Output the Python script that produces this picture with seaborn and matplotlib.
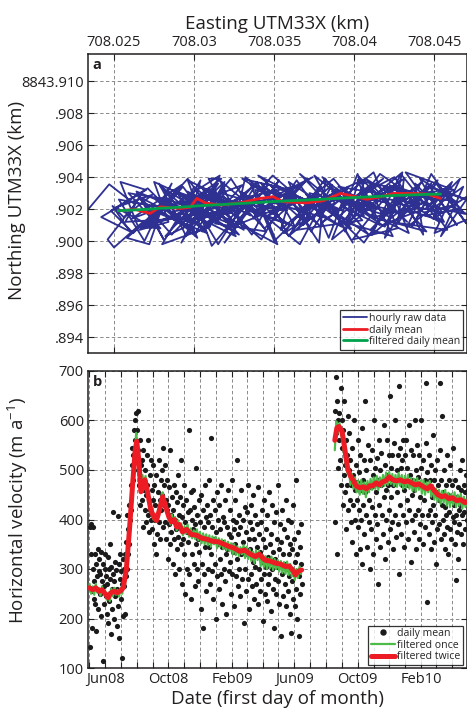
import numpy as np
import pandas as pd
import matplotlib
matplotlib.use("Agg")
import matplotlib.pyplot as plt
import matplotlib.dates as mdates
import seaborn as sns
from matplotlib.ticker import FixedLocator, FuncFormatter
from matplotlib.lines import Line2D

# ---------------- Panel a data (offsets in metres: easting from 708.000 km, northing from 8843.900 km)
# one row per day of hourly positions
hourly_e = [
    23.4, 24.7, 26.3, 24.6, 25.0, 26.8, 25.1, 27.4, 25.6, 24.9, 26.0, 24.2, 27.0, 25.4, 26.5,
    27.9, 25.9, 28.3, 26.2, 24.8, 27.1, 29.0, 25.7, 26.6, 27.5, 28.6, 26.9, 25.3, 28.0, 27.2,
    25.8, 28.9, 27.0, 29.6, 26.4, 28.1, 26.9, 30.0, 27.7, 26.1, 29.2, 26.6, 28.4, 27.5, 29.9,
    29.3, 27.2, 30.4, 28.6, 26.5, 29.8, 27.8, 28.9, 31.0, 27.4, 30.8, 28.2, 26.9, 29.6, 31.2,
    28.2, 30.9, 29.5, 27.6, 31.3, 29.0, 30.2, 28.4, 31.8, 29.7, 30.4, 28.0, 31.0, 29.3, 27.9,
    32.0, 28.6, 30.6, 29.2, 31.5, 28.9, 30.8, 32.3, 29.9, 30.3, 31.9, 29.5, 28.4, 32.5, 30.9,
    31.7, 29.4, 32.4, 30.0, 28.8, 31.2, 33.0, 30.5, 29.6, 31.4, 32.8, 29.1, 31.6, 30.2, 33.3,
    33.2, 30.1, 31.9, 29.8, 32.6, 31.0, 33.5, 30.4, 32.2, 29.9, 31.5, 33.9, 30.7, 32.9, 29.6,
    31.1, 33.8, 32.0, 30.5, 34.0, 31.6, 33.1, 30.8, 32.7, 31.3, 34.5, 32.3, 30.2, 33.6, 31.9,
    34.6, 32.4, 35.1, 31.7, 33.6, 34.9, 32.1, 33.9, 35.5, 32.8, 33.2, 35.8, 31.4, 34.2, 36.0,
    33.0, 35.8, 34.4, 32.6, 36.2, 33.7, 35.3, 34.0, 32.9, 36.0, 35.0, 33.5, 37.0, 34.9, 32.4,
    35.2, 33.8, 36.7, 34.5, 37.1, 35.6, 33.4, 36.3, 34.8, 37.4, 36.0, 38.0, 34.0, 37.8, 35.7,
    36.9, 34.2, 35.9, 37.6, 35.0, 36.4, 38.0, 34.6, 36.1, 35.4, 38.6, 36.6, 34.0, 37.4, 35.2,
    38.5, 35.9, 37.3, 39.0, 36.3, 38.2, 37.8, 36.0, 39.3, 37.0, 39.8, 36.6, 38.8, 35.6, 37.9,
    36.8, 39.6, 38.4, 37.2, 40.1, 38.7, 36.9, 39.2, 37.7, 38.9, 40.6, 37.5, 39.9, 38.1, 36.4,
    40.5, 38.0, 39.8, 37.9, 41.1, 39.4, 40.7, 38.3, 41.4, 39.0, 42.0, 38.6, 40.2, 41.6, 39.2,
    41.8, 39.1, 40.9, 38.6, 42.0, 40.3, 39.5, 41.5, 40.1, 42.3, 43.0, 40.6, 38.4, 41.2, 42.7,
    39.9, 42.6, 40.6, 38.9, 41.9, 43.0, 40.2, 41.3, 39.8, 42.1, 43.6, 41.6, 39.3, 42.4, 40.9,
    43.3, 40.7, 42.8, 41.0, 43.7, 41.8, 40.4, 42.5, 43.9, 41.2, 44.5, 42.0, 40.1, 43.0, 41.9,
    44.2, 41.6, 43.4, 42.2, 44.6, 41.4, 43.1, 42.7, 44.0, 41.9, 45.3, 42.9, 41.1, 44.8, 43.6,
    42.9, 45.2, 43.6, 44.8, 42.4, 45.5, 43.8, 44.3, 42.6, 45.0, 46.2, 43.2, 45.8, 42.2, 44.6,
    46.0, 43.5, 45.6, 44.1, 46.3, 43.9, 45.8, 44.4, 46.6, 45.1, 47.0, 44.8, 43.3, 46.8, 45.4,
    47.2, 44.9, 46.1, 44.6, 46.9, 45.7, 47.5, 44.7, 46.4, 45.3, 46.6, 45.0, 47.4, 46.0, 44.4,
]
hourly_n = [
    2.0, 3.55, 2.3, 0.1, -0.4, 1.2, 2.1, 2.9, 1.5, 2.2, 0.6, 1.5, 3.2, 3.7, 0.9,
    0.8, 3.0, 2.6, 0.5, 1.9, 3.3, 1.4, 1.2, 2.8, 1.7, 3.6, 0.0, 2.6, 2.1, -0.2,
    0.2, 2.9, 0.9, 1.8, 3.1, 0.1, 2.4, 0.6, 2.0, 1.4, 3.5, 0.7, 1.2, 3.7, 2.6,
    3.4, 1.0, 2.3, 0.4, 2.8, 1.1, 3.6, 1.6, 2.9, 1.9, 0.5, 2.7, 0.9, 3.9, 1.7,
    0.3, 3.3, 1.0, 2.6, 1.5, 3.0, 0.2, 1.8, 2.4, 1.3, 3.8, -0.2, 0.9, 2.2, 3.4,
    0.9, 3.2, 2.5, -0.1, 3.6, 1.6, 0.8, 2.2, 2.9, 1.4, 3.3, 0.3, 2.6, 1.0, 3.9,
    3.9, 2.2, 1.3, 3.4, 1.0, 2.8, 3.5, 0.6, 3.1, 2.0, 0.4, 2.5, 4.1, 1.5, 2.4,
    2.6, 0.5, 3.7, 1.7, 0.3, 2.9, 1.6, 3.4, 2.0, 2.5, -0.2, 3.6, 1.1, 2.2, 3.8,
    -0.3, 2.9, 1.2, 3.3, 1.8, 3.8, 0.7, 2.1, 2.6, 1.1, 0.6, 3.9, 1.4, 2.4, -0.1,
    3.5, 0.9, 2.0, 3.0, 0.4, 2.8, 1.7, 3.7, 1.2, 2.3, 4.0, 1.9, 2.6, 0.1, 3.2,
    3.9, 2.1, 0.8, 2.6, 3.4, 1.4, 3.8, 2.0, 3.1, 1.0, 0.0, 3.6, 2.3, 4.1, 1.3,
    -0.2, 3.2, 2.7, 1.5, 3.9, 2.2, 1.9, 0.9, 3.5, 2.4, 0.4, 2.0, 4.1, 1.0, 3.2,
    1.2, 3.6, 0.3, 2.9, 1.8, 3.8, 1.5, 2.5, 3.1, 0.7, 3.5, -0.2, 1.9, 4.0, 2.9,
    2.0, 3.7, 0.6, 3.2, 1.4, 3.9, -0.1, 2.6, 1.9, 2.9, 0.8, 4.2, 2.4, 0.5, 3.4,
    1.0, 3.4, 0.2, 3.0, 2.2, 3.9, 2.4, 0.9, 1.7, 3.3, 1.6, 4.1, -0.1, 2.8, 0.7,
    1.3, 4.0, 2.5, 1.1, 3.6, 0.6, 3.9, 2.8, 2.0, 3.4, 2.9, 0.1, 4.2, 1.0, 2.2,
    3.9, 1.6, 0.4, 3.1, 2.4, 4.0, 1.0, 3.0, 2.2, 1.5, 3.4, -0.1, 2.0, 4.3, 0.8,
    0.1, 3.6, 1.9, 2.9, 0.9, 3.2, 3.8, 1.4, 2.5, 2.0, 2.8, 4.2, 1.2, 0.3, 3.4,
    1.2, 3.9, 2.6, 0.7, 3.3, 1.8, 2.9, 4.0, 2.1, 1.5, 0.6, 3.4, 1.9, 4.3, 0.2,
    3.7, 1.4, 0.5, 3.5, 2.3, 2.7, 3.9, 1.1, 2.9, 3.3, 1.2, 4.2, 0.4, 3.6, 2.0,
    1.6, 3.8, 0.9, 3.1, 2.4, 1.8, 3.6, 0.4, 3.4, 2.6, 3.2, 4.3, 0.7, 1.2, 2.1,
    3.5, 1.9, 1.2, 3.9, 2.5, 2.8, 3.3, 1.6, 2.0, 3.6, 1.1, 4.2, 0.9, 3.4, 0.3,
    2.9, 1.4, 3.7, 2.2, 1.7, 3.1, 2.4, 3.4, 1.0, 2.6, 3.9, 0.5, 1.5, 2.2, 1.8,
]
daily_e = [25.27, 26.31, 27.25, 27.88, 29.13, 29.75, 30.17, 30.69, 31.63, 32.88,
           34.13, 34.94, 35.56, 37.04, 38.06, 39.13, 39.94, 40.79, 41.63, 42.44,
           43.69, 44.56, 45.38]
daily_n = [1.89, 1.98, 1.73, 2.14, 2.04, 2.11, 2.67, 2.39, 2.25, 2.39,
           2.67, 2.77, 2.46, 2.39, 2.52, 2.98, 2.81, 2.61, 2.77, 2.98,
           2.98, 2.94, 2.67]
filt_n = [1.90, 1.95, 2.00, 2.05, 2.12, 2.16, 2.20, 2.23, 2.28, 2.35,
          2.42, 2.47, 2.50, 2.57, 2.62, 2.68, 2.72, 2.76, 2.80, 2.85,
          2.89, 2.92, 2.94]

# ---------------- Panel b data (m/a)
seg1_start = "2008-05-02"
vel_seg1 = [
    385, 142, 390, 330, 255, 180, 300, 385, 275, 240,
    330, 230, 175, 310, 260, 285, 340, 220, 296, 320,
    250, 290, 335, 205, 275, 115, 310, 265, 230, 300,
    330, 285, 245, 210, 270, 325, 190, 300, 236, 280,
    350, 168, 305, 260, 220, 290, 415, 200, 275, 315,
    245, 298, 185, 260, 408, 225, 310, 160, 280, 330,
    240, 295, 120, 270, 205, 320, 265, 300, 210, 330,
    285, 355, 300, 410, 330, 380, 350, 430, 400, 470,
    420, 510, 545, 480, 530, 500, 580, 560, 600, 545,
    615, 580, 520, 620, 540, 500, 470, 560, 430, 510,
    480, 440, 520, 385, 540, 460, 420, 500, 450, 395,
    530, 470, 410, 560, 440, 375, 490, 420, 520, 400,
    460, 380, 440, 510, 350, 470, 400, 430, 330, 490,
    410, 370, 455, 520, 395, 440, 360, 480, 420, 500,
    450, 385, 545, 430, 470, 395, 510, 360, 440, 420,
    480, 320, 430, 390, 465, 350, 540, 410, 375, 445,
    310, 420, 470, 360, 400, 290, 455, 380, 435, 340,
    490, 365, 410, 300, 445, 385, 520, 350, 405, 270,
    430, 360, 470, 330, 395, 250, 440, 375, 300, 415,
    355, 580, 290, 420, 370, 455, 240, 400, 330, 380,
    460, 310, 425, 265, 390, 350, 505, 300, 410, 360,
    275, 440, 335, 395, 220, 450, 365, 310, 420, 180,
    385, 290, 470, 345, 405, 255, 430, 360, 300, 395,
    345, 480, 270, 410, 330, 565, 295, 385, 240, 440,
    360, 310, 420, 200, 375, 455, 285, 350, 400, 260,
    430, 320, 380, 290, 470, 345, 230, 405, 355, 300,
    395, 275, 440, 330, 210, 385, 340, 460, 295, 370,
    315, 420, 250, 365, 480, 290, 400, 335, 225, 380,
    350, 440, 285, 395, 320, 520, 265, 370, 300, 410,
    245, 385, 330, 460, 280, 355, 400, 190, 340, 425,
    300, 375, 255, 415, 330, 470, 280, 360, 220, 395,
    340, 290, 430, 265, 380, 315, 450, 240, 360, 305,
    410, 270, 345, 390, 230, 465, 300, 370, 255, 335,
    395, 280, 420, 315, 195, 360, 290, 440, 250, 345,
    305, 380, 235, 410, 325, 270, 455, 290, 350, 215,
    370, 300, 430, 260, 335, 395, 180, 320, 280, 415,
    250, 360, 305, 470, 275, 340, 230, 390, 310, 165,
    355, 290, 420, 245, 330, 380, 270, 310, 440, 225,
    300, 365, 255, 400, 285, 330, 210, 350, 170, 395,
    275, 340, 240, 430, 290, 360, 225, 315, 480, 260,
    330, 200, 375, 285, 165, 345, 250, 390, 310, 270,
]
seg2_start = "2009-08-18"
vel_seg2 = [
    395, 620, 688, 575, 640, 330, 600, 505, 560, 615,
    520, 665, 470, 545, 600, 430, 580, 490, 640, 510,
    455, 560, 380, 530, 470, 610, 420, 500, 575, 440,
    520, 395, 470, 545, 355, 490, 430, 600, 460, 400,
    510, 330, 475, 440, 560, 385, 495, 420, 340, 530,
    460, 400, 585, 310, 480, 430, 520, 370, 455, 640,
    410, 500, 345, 470, 550, 395, 440, 300, 520, 465,
    380, 540, 425, 490, 330, 470, 600, 410, 505, 360,
    455, 525, 390, 480, 270, 560, 430, 500, 345, 470,
    535, 410, 480, 370, 590, 445, 320, 510, 460, 400,
    490, 560, 355, 470, 530, 420, 650, 380, 505, 445,
    530, 395, 470, 340, 555, 480, 410, 600, 365, 500,
    455, 530, 390, 670, 290, 545, 430, 505, 370, 470,
    520, 410, 560, 460, 345, 530, 480, 395, 560, 440,
    505, 360, 470, 590, 420, 490, 315, 540, 450, 400,
    480, 530, 375, 460, 600, 410, 500, 340, 470, 550,
    420, 485, 360, 530, 445, 390, 505, 600, 410, 470,
    350, 520, 440, 480, 385, 555, 676, 234, 495, 410,
    465, 370, 530, 420, 480, 340, 510, 445, 395, 570,
    430, 480, 355, 500, 410, 455, 310, 520, 380, 470,
    440, 390, 540, 675, 360, 480, 430, 610, 400, 455,
    370, 500, 425, 340, 470, 410, 530, 385, 450, 330,
    480, 415, 380, 510, 440, 360, 470, 405, 545, 395,
    430, 350, 480, 410, 278, 375, 445, 320, 465, 420,
    390, 500, 430, 460, 370, 410, 520, 440, 350, 470,
    415, 455, 380, 490, 430, 400, 460,
]
# filtered once (every 3 days)
once_seg1 = [
    270, 250, 265, 248, 270, 252, 262, 246, 265, 250,
    256, 238, 252, 235, 260, 245, 262, 248, 258, 244,
    262, 250, 268, 285, 315, 350, 395, 440, 490, 535,
    575, 545, 505, 470, 490, 470, 488, 450, 445, 418,
    425, 400, 412, 395, 420, 428, 445, 455, 430, 435,
    410, 415, 390, 410, 392, 405, 378, 398, 380, 392,
    368, 386, 372, 390, 365, 382, 362, 378, 360, 380,
    358, 375, 352, 372, 350, 370, 348, 368, 345, 366,
    350, 365, 342, 362, 345, 360, 340, 358, 338, 355,
    336, 352, 330, 350, 328, 346, 326, 344, 330, 348,
    322, 345, 320, 340, 316, 335, 312, 338, 318, 336,
    306, 328, 304, 326, 300, 322, 302, 325, 298, 320,
    300, 318, 295, 316, 292, 314, 290, 315, 288, 310,
    285, 302, 278, 300, 282, 305, 290,
]
once_seg2 = [
    540, 598, 575, 595, 570, 565, 530, 515, 495, 505,
    470, 492, 462, 485, 455, 478, 450, 480, 452, 475,
    445, 478, 455, 482, 460, 485, 462, 488, 460, 485,
    466, 490, 468, 495, 470, 496, 472, 492, 468, 490,
    466, 494, 468, 490, 462, 488, 465, 490, 462, 484,
    458, 482, 456, 484, 460, 478, 452, 480, 450, 475,
    455, 478, 446, 470, 440, 462, 436, 460, 432, 458,
    434, 460, 428, 454, 425, 452, 430, 455, 425, 450,
    428, 452, 422, 446, 425, 440,
]
# filtered twice (knots)
twice_dates_seg1 = [
    "2008-05-02", "2008-05-08", "2008-05-14", "2008-05-20", "2008-05-26", "2008-06-01",
    "2008-06-07", "2008-06-12", "2008-06-18", "2008-06-24", "2008-07-01", "2008-07-06",
    "2008-07-12", "2008-07-18", "2008-07-24", "2008-07-29", "2008-08-01", "2008-08-05",
    "2008-08-09", "2008-08-13", "2008-08-17", "2008-08-22", "2008-08-28", "2008-09-03",
    "2008-09-08", "2008-09-14", "2008-09-20", "2008-09-26", "2008-10-02", "2008-10-07",
    "2008-10-12", "2008-10-17", "2008-10-22", "2008-10-28", "2008-11-05", "2008-11-14",
    "2008-11-25", "2008-12-05", "2008-12-15", "2008-12-25", "2009-01-05", "2009-01-16",
    "2009-01-25", "2009-02-05", "2009-02-15", "2009-02-25", "2009-03-08", "2009-03-18",
    "2009-03-25", "2009-04-05", "2009-04-15", "2009-04-25", "2009-05-05", "2009-05-15",
    "2009-05-22", "2009-05-30", "2009-06-03", "2009-06-09", "2009-06-15",
]
twice_vals_seg1 = [
    262, 258, 262, 255, 258, 250, 242, 252, 255, 252, 256, 262,
    300, 380, 470, 540, 558, 520, 456, 465, 480, 455, 420, 405,
    398, 420, 446, 425, 405, 395, 400, 385, 390, 375, 380, 370,
    368, 362, 360, 356, 355, 350, 346, 342, 336, 338, 330, 325,
    330, 318, 316, 312, 310, 305, 306, 296, 288, 296, 298,
]
twice_dates_seg2 = [
    "2009-08-18", "2009-08-22", "2009-08-26", "2009-09-01", "2009-09-06", "2009-09-12",
    "2009-09-17", "2009-09-22", "2009-09-28", "2009-10-05", "2009-10-12", "2009-10-18",
    "2009-10-24", "2009-10-30", "2009-11-06", "2009-11-12", "2009-11-18", "2009-11-24",
    "2009-12-01", "2009-12-08", "2009-12-15", "2009-12-22", "2009-12-30", "2010-01-06",
    "2010-01-13", "2010-01-20", "2010-01-27", "2010-02-05", "2010-02-12", "2010-02-19",
    "2010-02-26", "2010-03-05", "2010-03-12", "2010-03-19", "2010-03-26", "2010-04-02",
    "2010-04-10", "2010-04-18", "2010-04-26", "2010-05-01",
]
twice_vals_seg2 = [
    560, 585, 588, 578, 545, 502, 488, 480, 468, 464, 466, 462,
    468, 468, 474, 470, 476, 478, 486, 480, 478, 480, 476, 478,
    474, 470, 472, 466, 462, 468, 458, 450, 446, 448, 442, 444,
    438, 440, 434, 436,
]

# ---------------- styling
sns.set_style("white")
plt.rcParams["font.family"] = ["Open Sans", "DejaVu Sans"]
plt.rcParams["mathtext.default"] = "regular"
txt = "#231f20"
blue, red, green_a, green_b = "#2e3192", "#ed1c24", "#00a14b", "#4dbb4a"
grid_kw = dict(color="#8a8a8a", linestyle=(0, (3.5, 2.5)), linewidth=0.7)
lab_fs = 13.5
tick_fs = 10.5

fig = plt.figure(figsize=(4.67, 7.10), dpi=100)
ax1 = fig.add_axes([88 / 467, 1 - 353 / 710, 378.5 / 467, 299 / 710])
ax2 = fig.add_axes([88 / 467, 1 - 668 / 710, 378.5 / 467, 297 / 710])

# ---- panel a
he = 708 + np.array(hourly_e) / 1000
hn = 8843.9 + np.array(hourly_n) / 1000
sns.lineplot(x=he, y=hn, sort=False, estimator=None, ax=ax1, color=blue,
             linewidth=1.3, label="hourly raw data")
de = 708 + np.array(daily_e) / 1000
sns.lineplot(x=de, y=8843.9 + np.array(daily_n) / 1000, sort=False, estimator=None,
             ax=ax1, color=red, linewidth=2.0, label="daily mean")
sns.lineplot(x=de, y=8843.9 + np.array(filt_n) / 1000, sort=False, estimator=None,
             ax=ax1, color=green_a, linewidth=2.0, label="filtered daily mean")

ax1.set_xlim(708.023375, 708.0470)
ax1.set_ylim(8843.8930, 8843.9117)
xt = [708.025, 708.03, 708.035, 708.04, 708.045]
yt = [8843.894, 8843.896, 8843.898, 8843.900, 8843.902, 8843.904, 8843.906, 8843.908, 8843.910]
ax1.xaxis.set_major_locator(FixedLocator(xt))
ax1.xaxis.set_major_formatter(FuncFormatter(lambda v, p: f"{v:.3f}".rstrip("0")))
ax1.yaxis.set_major_locator(FixedLocator(yt))
ax1.yaxis.set_major_formatter(FuncFormatter(
    lambda v, p: "8843.910" if abs(v - 8843.910) < 1e-6 else "." + f"{v:.3f}".split(".")[1]))
ax1.xaxis.set_label_position("top")
ax1.set_xlabel("Easting UTM33X (km)", fontsize=lab_fs, color=txt, labelpad=4)
ax1.set_ylabel("Northing UTM33X (km)", fontsize=lab_fs, color=txt)
ax1.yaxis.set_label_coords(-0.165, 0.51)
ax1.grid(True, which="major", **grid_kw)
ax1.text(0.012, 0.985, "a", transform=ax1.transAxes, fontsize=10.5, fontweight="bold",
         va="top", ha="left", color=txt)
leg1 = ax1.legend(loc="lower right", fontsize=7.6, frameon=True, fancybox=False,
                  edgecolor="black", borderpad=0.25, labelspacing=0.05,
                  handlelength=2.3, handletextpad=0.2, borderaxespad=0.3)
leg1.get_frame().set_linewidth(0.9)

# ---- panel b
d1 = pd.date_range(seg1_start, periods=len(vel_seg1), freq="D")
d2 = pd.date_range(seg2_start, periods=len(vel_seg2), freq="D")
o1 = pd.date_range(seg1_start, periods=len(once_seg1), freq="3D")
o2 = pd.date_range(seg2_start, periods=len(once_seg2), freq="3D")
t1 = pd.to_datetime(twice_dates_seg1)
t2 = pd.to_datetime(twice_dates_seg2)

for dd, vv in ((d1, vel_seg1), (d2, vel_seg2)):
    sns.scatterplot(x=dd, y=vv, ax=ax2, color="#1a1a1a", s=14, linewidth=0, zorder=2)
for dd, vv in ((o1, once_seg1), (o2, once_seg2)):
    sns.lineplot(x=dd, y=vv, ax=ax2, color=green_b, linewidth=1.6, estimator=None, zorder=3)
for dd, vv in ((t1, twice_vals_seg1), (t2, twice_vals_seg2)):
    sns.lineplot(x=dd, y=vv, ax=ax2, color=red, linewidth=3.6, estimator=None, zorder=4)

ax2.set_xlim(pd.Timestamp("2008-04-29"), pd.Timestamp("2010-04-29"))
ax2.set_ylim(100, 700)
ax2.yaxis.set_major_locator(FixedLocator([100, 200, 300, 400, 500, 600, 700]))
ax2.xaxis.set_major_locator(mdates.MonthLocator(bymonth=[2, 6, 10]))
ax2.xaxis.set_minor_locator(mdates.MonthLocator())
ax2.xaxis.set_major_formatter(mdates.DateFormatter("%b%y"))
ax2.grid(True, which="both", axis="x", **grid_kw)
ax2.grid(True, which="major", axis="y", **grid_kw)
ax2.set_xlabel("Date (first day of month)", fontsize=lab_fs, color=txt, labelpad=2)
ax2.set_ylabel("Horizontal velocity (m a$^{-1}$)", fontsize=lab_fs, color=txt)
ax2.yaxis.set_label_coords(-0.152, 0.53)
ax2.text(0.012, 0.985, "b", transform=ax2.transAxes, fontsize=10.5, fontweight="bold",
         va="top", ha="left", color=txt)
handles = [
    Line2D([], [], marker="o", linestyle="none", color="#1a1a1a", markersize=3.6),
    Line2D([], [], color=green_b, linewidth=1.6),
    Line2D([], [], color=red, linewidth=3.6),
]
leg2 = ax2.legend(handles, ["daily mean", "filtered once", "filtered twice"],
                  loc="lower right", fontsize=7.6, frameon=True, fancybox=False,
                  edgecolor="black", borderpad=0.25, labelspacing=0.05,
                  handlelength=2.3, handletextpad=0.2, borderaxespad=0.3)
leg2.get_frame().set_linewidth(0.9)

for ax in (ax1, ax2):
    ax.tick_params(which="both", direction="in", length=4, width=0.8, colors=txt,
                   labelsize=tick_fs, top=True, right=True, bottom=True, left=True, pad=3)
    for sp in ax.spines.values():
        sp.set_visible(True)
        sp.set_color(txt)
        sp.set_linewidth(1.1)
ax1.tick_params(axis="x", which="both", labelbottom=False, labeltop=True)

fig.savefig("out.png", dpi=100)
